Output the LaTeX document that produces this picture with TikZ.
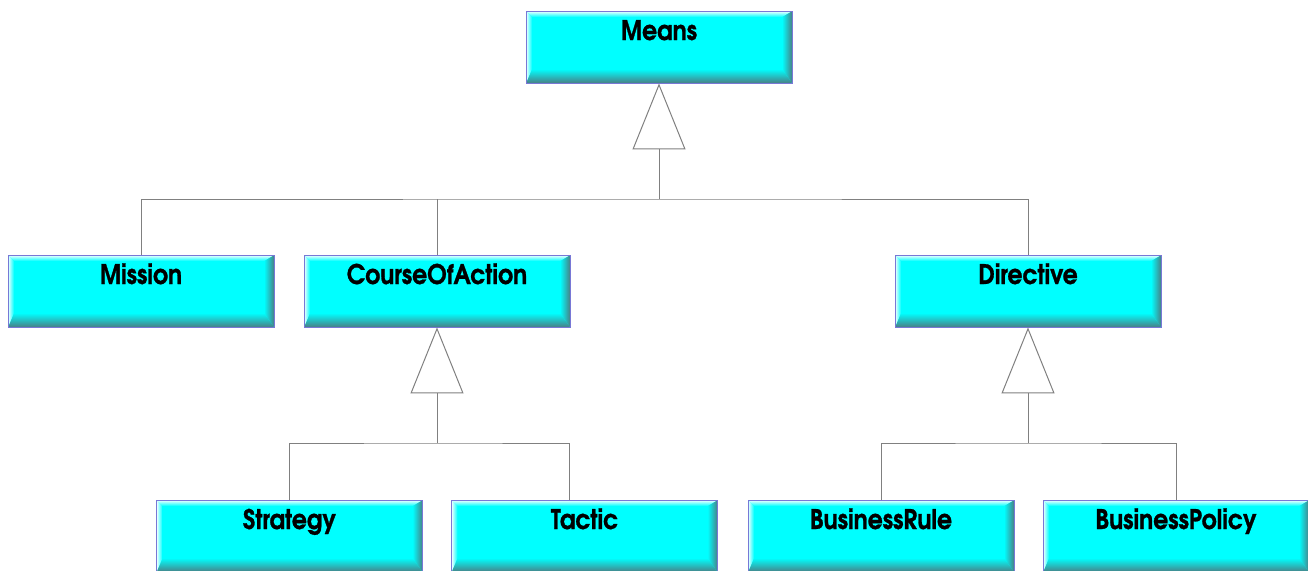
\documentclass[tikz,border=0pt]{standalone}
\usepackage{fontspec}
\usetikzlibrary{arrows.meta}
\newfontfamily\boxfont[FakeStretch=0.87,FakeBold=1]{texgyreadventor-bold.otf}
\definecolor{boxcyan}{RGB}{0,255,255}
\definecolor{bevdark}{RGB}{72,128,134}
\definecolor{bevmid}{RGB}{40,200,205}
\definecolor{bevlight}{RGB}{245,255,255}
\definecolor{boxline}{RGB}{120,120,214}
\definecolor{linegray}{RGB}{128,128,128}
\begin{document}
\begin{tikzpicture}[x=1pt,y=-1pt,
  cls/.style={draw=boxline,line width=0.9pt,fill=boxcyan,inner sep=0pt,
    minimum width=266pt,text height=29pt,text depth=43pt,
    font=\boxfont\fontsize{27}{30}\selectfont,
    path picture={
      \coordinate (pa) at (path picture bounding box.south west);
      \coordinate (pb) at (path picture bounding box.south east);
      \coordinate (pc) at (path picture bounding box.north east);
      \coordinate (pd) at (path picture bounding box.north west);
      \shade[top color=boxcyan,middle color=bevmid,bottom color=bevdark] (pa) -- (pb) -- ([shift={(-10pt,14pt)}]pb) -- ([shift={(6pt,14pt)}]pa) -- cycle;
      \shade[left color=boxcyan,middle color=bevmid,right color=bevdark] (pb) -- (pc) -- ([shift={(-10pt,-6pt)}]pc) -- ([shift={(-10pt,14pt)}]pb) -- cycle;
      \shade[top color=bevlight,bottom color=boxcyan] (pd) -- (pc) -- ([shift={(-10pt,-6pt)}]pc) -- ([shift={(6pt,-6pt)}]pd) -- cycle;
      \shade[left color=bevlight,right color=boxcyan] (pd) -- (pa) -- ([shift={(6pt,14pt)}]pa) -- ([shift={(6pt,-6pt)}]pd) -- cycle;
    }},
  tree/.style={draw=linegray,line width=1pt},
  gen/.style={tree,-{Triangle[length=66pt,width=53pt,fill=white]}}]
  \useasboundingbox (0,0) rectangle (1308,570);
  \clip (0,0) rectangle (1308,570);
  % classes
  \node[cls] (Means) at (659,47) {Means};
  \node[cls] (Mis) at (141,291) {Mission};
  \node[cls] (CoA) at (437,291) {CourseOfAction};
  \node[cls] (Dir) at (1028,291) {Directive};
  \node[cls] (Str) at (289.5,536) {Strategy};
  \node[cls] (Tac) at (584.5,536) {Tactic};
  \node[cls] (BR) at (881,536) {BusinessRule};
  \node[cls] (BP) at (1176,536) {BusinessPolicy};
  % generalizations
  \coordinate (jMeans) at (659,199);
  \coordinate (jCoA) at (437,443);
  \coordinate (jDir) at (1028,443);
  \draw[tree] (Mis.north) |- (jMeans) -| (Dir.north);
  \draw[tree] (CoA.north) -- (CoA.north |- jMeans);
  \draw[gen] (jMeans) -- (Means.south);
  \draw[tree] (Str.north) |- (jCoA) -| ([xshift=-15pt]Tac.north);
  \draw[gen] (jCoA) -- (CoA.south);
  \draw[tree] (BR.north) |- (jDir) -| (BP.north);
  \draw[gen] (jDir) -- (Dir.south);
\end{tikzpicture}
\end{document}
